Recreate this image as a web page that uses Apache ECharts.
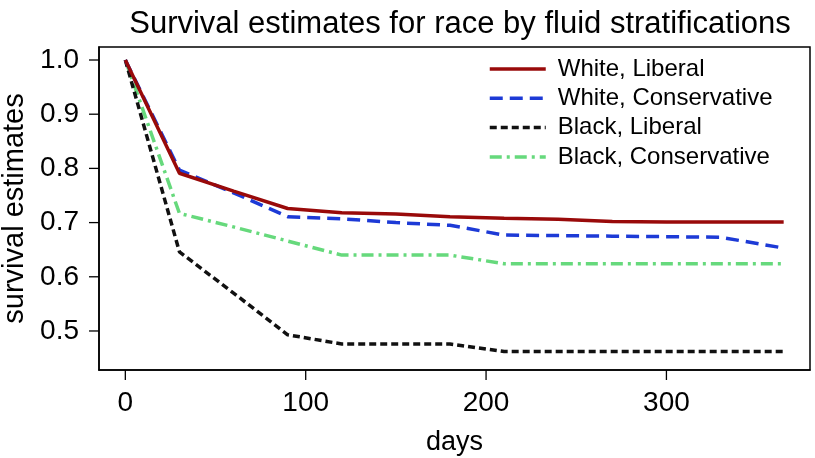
<!DOCTYPE html>
<html>
<head>
<meta charset="utf-8">
<script src="https://cdn.jsdelivr.net/npm/echarts@6/dist/echarts.min.js"></script>
<style>
html,body{margin:0;padding:0;background:#fff;}
#chart{width:815px;height:458px;}
</style>
</head>
<body>
<div id="chart"></div>
<script>
var titleText = "Survival estimates for race by fluid stratifications";
var xName = "days";
var yName = "survival estimates";
var days = [0, 30, 60, 90, 120, 150, 180, 210, 240, 270, 300, 330, 365];
var seriesNames = ["White, Liberal", "White, Conservative", "Black, Liberal", "Black, Conservative"];
var whiteLiberal = [1.0, 0.791, 0.758, 0.726, 0.718, 0.716, 0.711, 0.708, 0.706, 0.702, 0.701, 0.701, 0.701];
var whiteConservative = [1.0, 0.797, 0.755, 0.711, 0.707, 0.700, 0.695, 0.677, 0.676, 0.675, 0.674, 0.673, 0.653];
var blackLiberal = [1.0, 0.646, 0.570, 0.493, 0.476, 0.476, 0.476, 0.462, 0.462, 0.462, 0.462, 0.462, 0.462];
var blackConservative = [1.0, 0.717, 0.692, 0.666, 0.640, 0.640, 0.640, 0.624, 0.624, 0.624, 0.624, 0.624, 0.624];
var xTicks = [0, 100, 200, 300];
var yTicks = [0.5, 0.6, 0.7, 0.8, 0.9, 1.0];

var values = [whiteLiberal, whiteConservative, blackLiberal, blackConservative];
var colors = ["#990a0a", "#1d3ad6", "#111111", "#66d97c"];
var dashes = ["solid", [13, 7], [7, 4], [12, 5, 3, 5]];
var FONT = "Liberation Sans";
var xMin = -14.6, xMax = 379.6, yMin = 0.428, yMax = 1.024;
var TICK_LEN = 10;

var chart = echarts.init(document.getElementById('chart'), null, {renderer: 'canvas'});

var series = seriesNames.map(function (name, i) {
  return {
    name: name,
    type: 'line',
    symbol: 'none',
    showSymbol: false,
    smooth: false,
    data: days.map(function (d, j) { return [d, values[i][j]]; }),
    lineStyle: {color: colors[i], width: 3.5, type: dashes[i], cap: 'butt'},
    itemStyle: {color: 'rgba(0,0,0,0)', borderWidth: 0},
    emphasis: {disabled: true},
    z: 10 - i
  };
});

var axisLineStyle = {color: '#000', width: 1.5};

chart.setOption({
  animation: false,
  backgroundColor: '#ffffff',
  title: {
    text: titleText,
    left: 455,
    top: 4,
    textAlign: 'center',
    textStyle: {fontFamily: FONT, fontSize: 31, fontWeight: 'normal', color: '#000'}
  },
  legend: {
    orient: 'vertical',
    left: 488,
    top: 57,
    padding: 0,
    itemWidth: 56,
    itemHeight: 20,
    itemGap: 5.3,
    selectedMode: false,
    itemStyle: {color: 'rgba(0,0,0,0)', borderWidth: 0},
    lineStyle: {width: 3.5},
    textStyle: {fontFamily: FONT, fontSize: 24, color: '#000', lineHeight: 24, padding: [0, 0, 0, 7]},
    data: seriesNames
  },
  grid: {
    left: 99, right: 5, top: 47, bottom: 88,
    show: true, borderColor: '#000', borderWidth: 1.5, backgroundColor: 'transparent',
    containLabel: false, outerBoundsMode: 'none'
  },
  xAxis: {
    type: 'value',
    min: xMin,
    max: xMax,
    name: xName,
    nameLocation: 'middle',
    nameGap: 59,
    nameTextStyle: {fontFamily: FONT, fontSize: 27, color: '#000'},
    axisLine: {show: true, onZero: false, lineStyle: axisLineStyle},
    splitLine: {show: false},
    axisTick: {show: false},
    axisLabel: {customValues: xTicks, margin: 19, fontFamily: FONT, fontSize: 28, color: '#000'}
  },
  yAxis: {
    type: 'value',
    min: yMin,
    max: yMax,
    name: yName,
    nameLocation: 'middle',
    nameGap: 67,
    nameRotate: 90,
    nameTextStyle: {fontFamily: FONT, fontSize: 29, color: '#000'},
    axisLine: {show: true, onZero: false, lineStyle: axisLineStyle},
    splitLine: {show: false},
    axisTick: {show: false},
    axisLabel: {customValues: yTicks, margin: 20, fontFamily: FONT, fontSize: 28, color: '#000',
      formatter: function (v) { return v.toFixed(1); }}
  },
  series: series
});

// tick marks placed through the chart's own axis scales
var tickEls = [];
xTicks.forEach(function (v) {
  var p = chart.convertToPixel({gridIndex: 0}, [v, yMin]);
  if (p) {
    tickEls.push({type: 'line', silent: true, z: 100,
      shape: {x1: p[0], y1: p[1], x2: p[0], y2: p[1] + TICK_LEN},
      style: {stroke: '#000', lineWidth: 1.3}});
  }
});
yTicks.forEach(function (v) {
  var p = chart.convertToPixel({gridIndex: 0}, [xMin, v]);
  if (p) {
    tickEls.push({type: 'line', silent: true, z: 100,
      shape: {x1: p[0] - TICK_LEN, y1: p[1], x2: p[0], y2: p[1]},
      style: {stroke: '#000', lineWidth: 1.3}});
  }
});
chart.setOption({graphic: {elements: tickEls}});
</script>
</body>
</html>
